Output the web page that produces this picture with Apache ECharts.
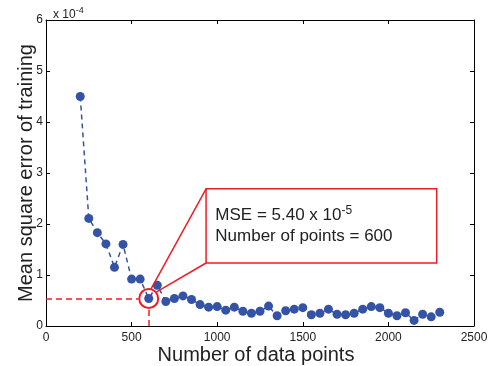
<!DOCTYPE html>
<html>
<head>
    <meta charset="UTF-8">
    <title>MSE vs data points</title>
    <script src="https://cdn.jsdelivr.net/npm/echarts@6/dist/echarts.min.js"></script>
</head>
<body style="margin:0;">
    <div id="main" style="width:500px;height:366px;"></div>
    <script type="text/javascript">
        // number of data points
        var points = [200, 250, 300, 350, 400, 450, 500, 550, 600, 650, 700, 750, 800, 850, 900, 950,
            1000, 1050, 1100, 1150, 1200, 1250, 1300, 1350, 1400, 1450, 1500, 1550, 1600, 1650, 1700,
            1750, 1800, 1850, 1900, 1950, 2000, 2050, 2100, 2150, 2200, 2250, 2300];
        // mean square error, in units of 1e-4
        var mse = [4.50, 2.11, 1.83, 1.61, 1.15, 1.60, 0.92, 0.92, 0.54, 0.80, 0.48, 0.54, 0.59, 0.52, 0.42, 0.37,
            0.38, 0.31, 0.37, 0.29, 0.25, 0.29, 0.39, 0.20, 0.30, 0.33, 0.36, 0.22, 0.25, 0.33, 0.23,
            0.22, 0.25, 0.33, 0.38, 0.36, 0.25, 0.20, 0.26, 0.11, 0.23, 0.18, 0.27];
        var xTicks = [0, 500, 1000, 1500, 2000, 2500];
        var yTicks = [0, 1, 2, 3, 4, 5, 6];

        var chosen = [600, 0.54]; // highlighted point
        var red = '#ee1c25';
        var font = 'Liberation Sans';

        var data = [];
        for (var i = 0; i < points.length; i++) {
            data.push([points[i], mse[i]]);
        }

        var myChart = echarts.init(document.getElementById('main'));

        var xBase = {
            type: 'value', min: xTicks[0], max: xTicks[xTicks.length - 1], interval: 500,
            splitLine: { show: false },
            axisLine: { show: true, onZero: false, lineStyle: { color: '#000', width: 1 } },
            axisTick: { inside: true, length: 4, lineStyle: { color: '#000' } }
        };
        var yBase = {
            type: 'value', min: yTicks[0], max: yTicks[yTicks.length - 1], interval: 1,
            splitLine: { show: false },
            axisLine: { show: true, onZero: false, lineStyle: { color: '#000', width: 1 } },
            axisTick: { inside: true, length: 4, lineStyle: { color: '#000' } }
        };

        myChart.setOption({
            animation: false,
            textStyle: { fontFamily: font },
            title: {
                text: 'x 10{s|-4}',
                left: 48, top: 1,
                textStyle: {
                    fontSize: 12, fontWeight: 'normal', color: '#222', fontFamily: font,
                    rich: { s: { fontSize: 9, padding: [0, 0, 8, 0], color: '#222', fontFamily: font } }
                }
            },
            grid: { left: 46, right: 26, top: 20, bottom: 40, outerBoundsMode: 'none' },
            xAxis: [
                Object.assign({}, xBase, {
                    position: 'bottom',
                    name: 'Number of data points',
                    nameLocation: 'middle', nameGap: 19, nameMoveOverlap: false,
                    nameTextStyle: { fontSize: 20, color: '#222', fontFamily: font, padding: [0, 8, 0, 0] },
                    axisLabel: {
                        fontSize: 12, color: '#222', margin: 6, fontFamily: font,
                        formatter: function (v) { return String(v); }
                    }
                }),
                Object.assign({}, xBase, { position: 'top', axisLabel: { show: false } })
            ],
            yAxis: [
                Object.assign({}, yBase, {
                    position: 'left',
                    name: 'Mean square error of training',
                    nameLocation: 'middle', nameGap: 10, nameMoveOverlap: false,
                    nameTextStyle: { fontSize: 20, color: '#222', fontFamily: font },
                    axisLabel: { fontSize: 12, color: '#222', margin: 3, fontFamily: font }
                }),
                Object.assign({}, yBase, { position: 'right', axisLabel: { show: false } })
            ],
            series: [{
                type: 'line',
                data: data,
                symbol: 'circle',
                symbolSize: 9,
                itemStyle: { color: '#3453a6' },
                lineStyle: { color: '#3453a6', width: 1.5, type: [5, 4] },
                z: 3,
                markLine: {
                    silent: true,
                    symbol: 'none',
                    label: { show: false },
                    animation: false,
                    data: [
                        [{ coord: [0, chosen[1]], lineStyle: { type: [6, 4] } }, { coord: [540, chosen[1]] }],
                        [{ coord: [chosen[0], 0], lineStyle: { type: [6, 4] } }, { coord: [chosen[0], 0.33] }],
                        [{ coord: [612, 0.72], lineStyle: { type: 'solid' } }, { coord: [935, 2.69] }],
                        [{ coord: [646, 0.67], lineStyle: { type: 'solid' } }, { coord: [935, 1.235] }]
                    ],
                    lineStyle: { color: red, width: 1.5 }
                },
                markPoint: {
                    silent: true,
                    symbol: 'circle',
                    symbolSize: 19,
                    label: { show: false },
                    itemStyle: { color: 'rgba(0,0,0,0)', borderColor: red, borderWidth: 2 },
                    data: [{ coord: chosen }]
                },
                markArea: {
                    silent: true,
                    itemStyle: { color: '#fff', borderColor: red, borderWidth: 1.5 },
                    label: {
                        show: true,
                        position: 'insideLeft',
                        distance: 10,
                        fontSize: 17,
                        color: '#222',
                        fontFamily: font,
                        lineHeight: 21,
                        formatter: 'MSE = 5.40 x 10{s|-5}\nNumber of points = ' + chosen[0],
                        rich: { s: { fontSize: 12, padding: [0, 0, 10, 0], color: '#222', fontFamily: font } }
                    },
                    data: [[{ coord: [935, 2.69] }, { coord: [2282, 1.235] }]]
                }
            }]
        });
    </script>
</body>
</html>
